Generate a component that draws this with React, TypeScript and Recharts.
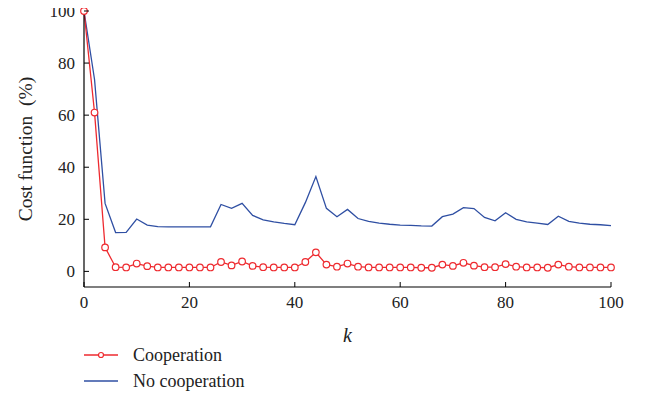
import { LineChart, Line, XAxis, YAxis } from "recharts"

const kValues = [
  0, 2, 4, 6, 8, 10, 12, 14, 16, 18, 20, 22, 24, 26, 28, 30, 32, 34, 36, 38, 40, 42, 44, 46, 48, 50,
  52, 54, 56, 58, 60, 62, 64, 66, 68, 70, 72, 74, 76, 78, 80, 82, 84, 86, 88, 90, 92, 94, 96, 98, 100,
]

const cooperation = [
  100, 61, 9.2, 1.6, 1.5, 3.0, 2.0, 1.5, 1.5, 1.5, 1.5, 1.5, 1.5, 3.6, 2.3, 3.8, 2.1, 1.6, 1.5, 1.5,
  1.5, 3.6, 7.3, 2.6, 1.8, 3.0, 1.8, 1.5, 1.5, 1.5, 1.5, 1.5, 1.4, 1.4, 2.6, 2.1, 3.3, 2.2, 1.6, 1.6,
  2.8, 1.8, 1.5, 1.5, 1.4, 2.6, 1.8, 1.5, 1.5, 1.5, 1.5,
]

const noCooperation = [
  100, 73.7, 26.1, 14.9, 15.0, 20.1, 17.8, 17.2, 17.1, 17.1, 17.1, 17.1, 17.1, 25.7, 24.2, 26.1, 21.5,
  19.8, 19.0, 18.4, 17.9, 26.4, 36.4, 24.2, 21.0, 23.8, 20.3, 19.2, 18.5, 18.1, 17.8, 17.7, 17.5, 17.4,
  21.0, 22.0, 24.5, 24.1, 20.7, 19.4, 22.5, 20.0, 19.0, 18.5, 18.0, 21.2, 19.2, 18.5, 18.1, 17.9, 17.6,
]

const xTicks = [0, 20, 40, 60, 80, 100]
const yTicks = [0, 20, 40, 60, 80, 100]

const data = kValues.map((k, i) => ({ k, coop: cooperation[i], nocoop: noCooperation[i] }))

const FONT = "'Liberation Serif', 'DejaVu Serif', serif"
const RED = "#ee2a2f"
const BLUE = "#2f4fa3"
const TICK_LEN = 5
const MARGIN = 9

// axis ticks point inward on all four sides of the box
const BottomTick = ({ x, y, payload }: any) => (
  <g>
    <line x1={x} x2={x} y1={y - MARGIN} y2={y - MARGIN - TICK_LEN} stroke="#000" />
    <text x={x} y={y + 12} textAnchor="middle" fontSize={17} fontFamily={FONT} fill="#222">
      {payload.value}
    </text>
  </g>
)

const TopTick = ({ x, y }: any) => (
  <line x1={x} x2={x} y1={y} y2={y + TICK_LEN} stroke="#000" />
)

const LeftTick = ({ x, y, payload }: any) => (
  <g>
    <line x1={x + MARGIN} x2={x + MARGIN + TICK_LEN} y1={y} y2={y} stroke="#000" />
    <text x={x} y={y + 6} textAnchor="end" fontSize={17} fontFamily={FONT} fill="#222">
      {payload.value}
    </text>
  </g>
)

const RightTick = ({ x, y }: any) => (
  <line x1={x} x2={x - TICK_LEN} y1={y} y2={y} stroke="#000" />
)

export default function App() {
  return (
    <div style={{ position: "relative", width: 649, height: 400, margin: -8, background: "#fff" }}>
      <LineChart
        width={649}
        height={400}
        data={data}
        margin={{ top: 11, right: 38, bottom: 53, left: 0 }}
      >
        <XAxis
          dataKey="k"
          type="number"
          domain={[0, 100]}
          ticks={xTicks}
          tickSize={0}
          tickMargin={MARGIN}
          tick={<BottomTick />}
          axisLine={{ stroke: "#000", strokeWidth: 1.2 }}
          tickLine={false}
          height={60}
          label={{
            value: "k",
            position: "insideBottom",
            offset: 5,
            style: { fontFamily: FONT, fontStyle: "italic", fontSize: 20, fill: "#222" },
          }}
        />
        <XAxis
          xAxisId="top"
          orientation="top"
          dataKey="k"
          type="number"
          domain={[0, 100]}
          ticks={xTicks}
          tickSize={0}
          tickMargin={0}
          tick={<TopTick />}
          tickLine={false}
          axisLine={{ stroke: "#000", strokeWidth: 1.2 }}
          height={0}
        />
        <YAxis
          type="number"
          domain={[-6, 100]}
          ticks={yTicks}
          tickSize={0}
          tickMargin={MARGIN}
          tick={<LeftTick />}
          tickLine={false}
          axisLine={{ stroke: "#000", strokeWidth: 1.2 }}
          width={84}
          label={{
            value: "Cost function\u00a0\u00a0(%)",
            angle: -90,
            position: "insideLeft",
            offset: 25,
            style: { fontFamily: FONT, fontSize: 19.5, fill: "#222", textAnchor: "middle" },
          }}
        />
        <YAxis
          yAxisId="right"
          orientation="right"
          type="number"
          domain={[-6, 100]}
          ticks={yTicks}
          tickSize={0}
          tickMargin={0}
          tick={<RightTick />}
          tickLine={false}
          axisLine={{ stroke: "#000", strokeWidth: 1.2 }}
          width={0}
        />
        <Line
          dataKey="nocoop"
          stroke={BLUE}
          strokeWidth={1.3}
          dot={false}
          isAnimationActive={false}
        />
        <Line
          dataKey="coop"
          stroke={RED}
          strokeWidth={1.3}
          dot={{ r: 3.3, stroke: RED, strokeWidth: 1.2, fill: "#fff" }}
          isAnimationActive={false}
        />
      </LineChart>
      <div
        style={{
          position: "absolute",
          left: 84,
          top: 342,
          fontFamily: FONT,
          fontSize: 18,
          color: "#222",
          lineHeight: "26px",
        }}
      >
        <div style={{ display: "flex", alignItems: "center" }}>
          <svg width={34} height={10} style={{ marginRight: 15 }}>
            <line x1={0} x2={34} y1={5} y2={5} stroke={RED} strokeWidth={1.3} />
            <circle cx={17} cy={5} r={2.5} stroke={RED} strokeWidth={1.2} fill="#fff" />
          </svg>
          Cooperation
        </div>
        <div style={{ display: "flex", alignItems: "center" }}>
          <svg width={34} height={10} style={{ marginRight: 15 }}>
            <line x1={0} x2={34} y1={5} y2={5} stroke={BLUE} strokeWidth={1.3} />
          </svg>
          No cooperation
        </div>
      </div>
    </div>
  )
}
